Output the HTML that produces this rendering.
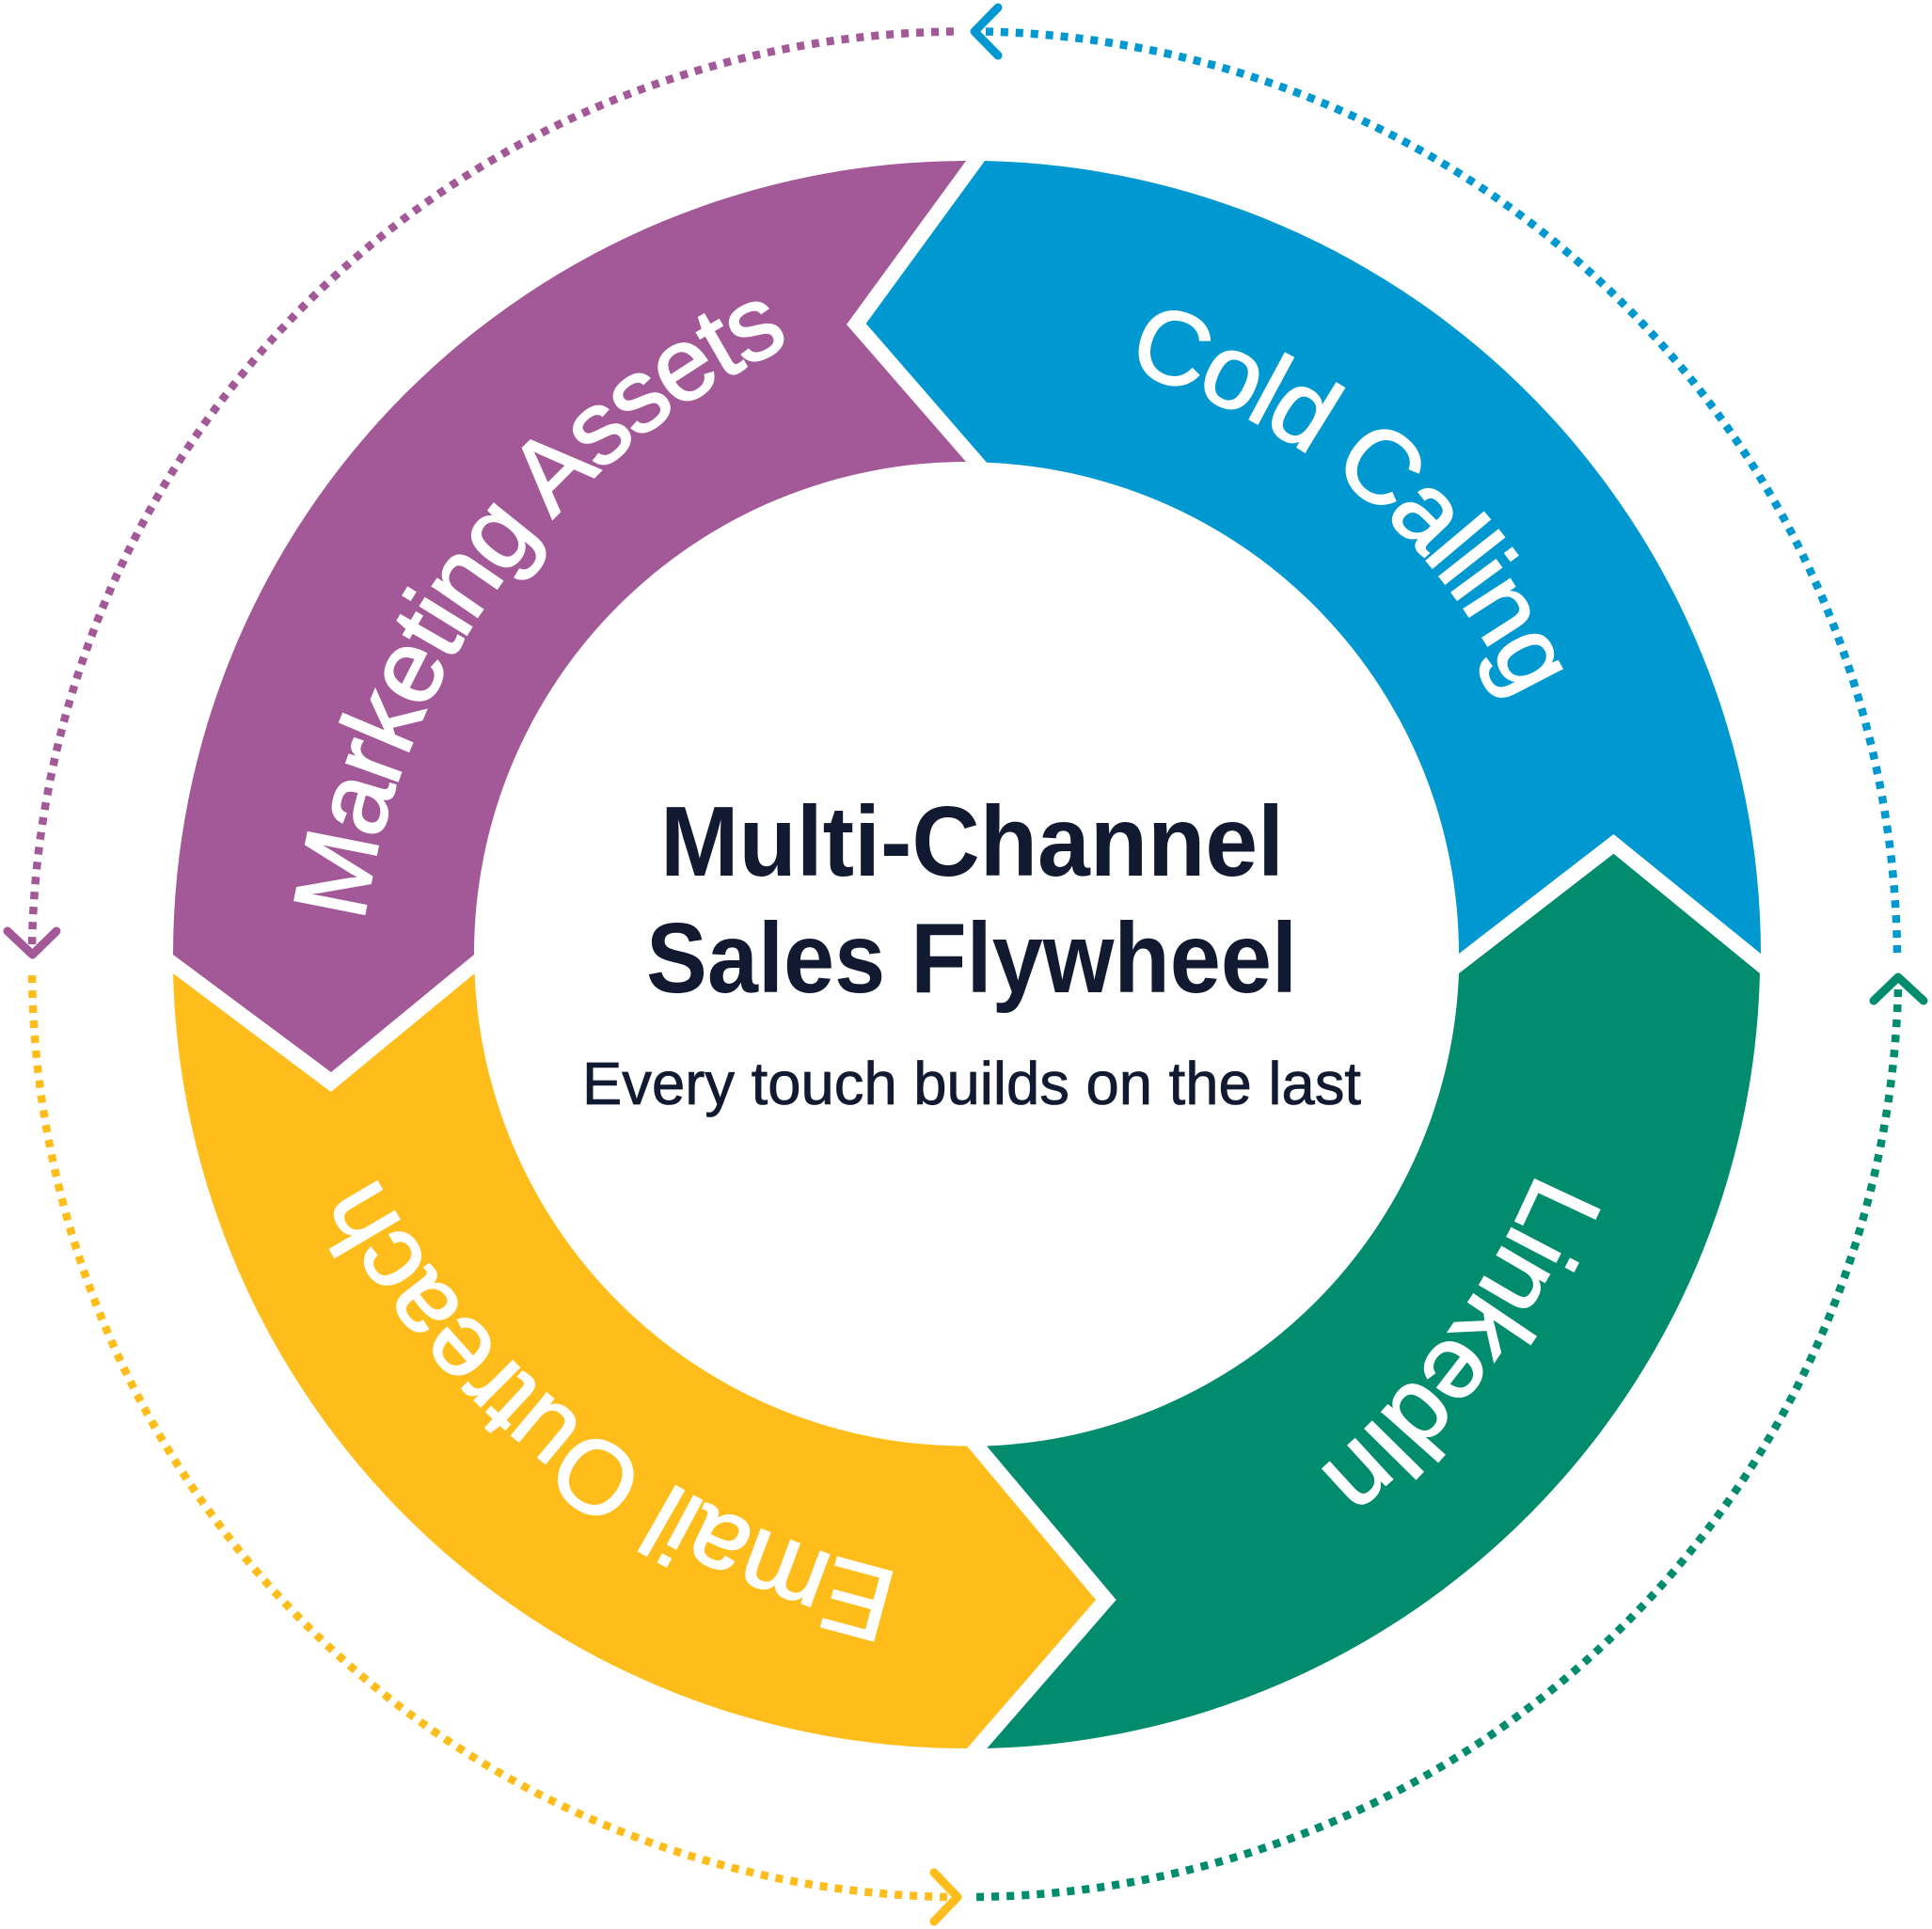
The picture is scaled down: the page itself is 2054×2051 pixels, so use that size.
<!DOCTYPE html>
<html><head><meta charset="utf-8"><style>html,body{margin:0;padding:0;background:#fff}svg{display:block}</style></head>
<body>
<svg xmlns="http://www.w3.org/2000/svg" width="2054" height="2051" viewBox="0 0 2054 2051">
<defs>
<path id="p1" d="M1196.5,394A642 642 0 0 1 1616,754"/>
<path id="p2" d="M1635,1246A860 860 0 0 1 1390,1575"/>
<path id="p3" d="M957,1673A845 845 0 0 1 390,1235"/>
<path id="p4" d="M387,981A800 800 0 0 1 855,360"/>
</defs>
<rect width="2054" height="2051" fill="#fff"/>
<path fill="#0098D0" d="M1047,171A844 844 0 0 1 1872,1014L1715.5,887L1551,1014A523 523 0 0 0 1049,491.7L920.7,344Z"/>
<path fill="#028C6E" d="M1871,1035L1715.5,907.7L1551,1035A523 523 0 0 1 1049,1537.5L1186.7,1701L1049.3,1859A844 844 0 0 0 1871,1035Z"/>
<path fill="#FFBD1C" d="M1028,1859L1165,1701L1028,1537.5A523 523 0 0 1 504.6,1035L351.8,1161L184,1035A844 844 0 0 0 1028,1859Z"/>
<path fill="#A35897" d="M184,1015L352,1140L504,1015A523 523 0 0 1 1027,491L900,345L1027,171A844 844 0 0 0 184,1015Z"/>
<g fill="none" stroke-width="8.5" stroke-dasharray="8 8">
<path stroke="#0098D0" pathLength="1528" d="M1048,33.5A992 992 0 0 1 2017,1013"/>
<path stroke="#028C6E" pathLength="1512" d="M2018,1052A992 992 0 0 1 1038,2017"/>
<path stroke="#FFBD1C" pathLength="1528" d="M1007,2017A992 992 0 0 1 34,1037"/>
<path stroke="#A35897" pathLength="1528" d="M34,1004A992 992 0 0 1 1014,33.5"/>
</g>
<g fill="none" stroke-width="9" stroke-linecap="round" stroke-linejoin="round">
<path stroke="#0098D0" d="M1061,8L1036,33.5L1061,59"/>
<path stroke="#028C6E" d="M1992,1064L2018,1039L2045,1064"/>
<path stroke="#FFBD1C" d="M993,1991L1018,2017L993,2043"/>
<path stroke="#A35897" d="M8,990L34.5,1015L60,990"/>
</g>
<g font-family="'Liberation Sans',sans-serif" font-size="110" fill="#fff" stroke="#fff" stroke-width="2">
<text><textPath href="#p1" textLength="561" lengthAdjust="spacing">Cold Calling</textPath></text>
<text><textPath href="#p2" textLength="400" lengthAdjust="spacing">LinkedIn</textPath></text>
<text><textPath href="#p3" textLength="723" lengthAdjust="spacing">Email Outreach</textPath></text>
<text><textPath href="#p4" textLength="797" lengthAdjust="spacing">Marketing Assets</textPath></text>
</g>
<g font-family="'Liberation Sans',sans-serif" fill="#111A30">
<text x="702" y="931" font-size="106" font-weight="700" textLength="663" lengthAdjust="spacingAndGlyphs">Multi-Channel</text>
<text x="687" y="1055" font-size="106" font-weight="700" textLength="692" lengthAdjust="spacingAndGlyphs">Sales Flywheel</text>
<text x="619" y="1174" font-size="64" stroke="#111A30" stroke-width="0.8" textLength="828" lengthAdjust="spacingAndGlyphs">Every touch builds on the last</text>
</g>
</svg>
</body></html>
